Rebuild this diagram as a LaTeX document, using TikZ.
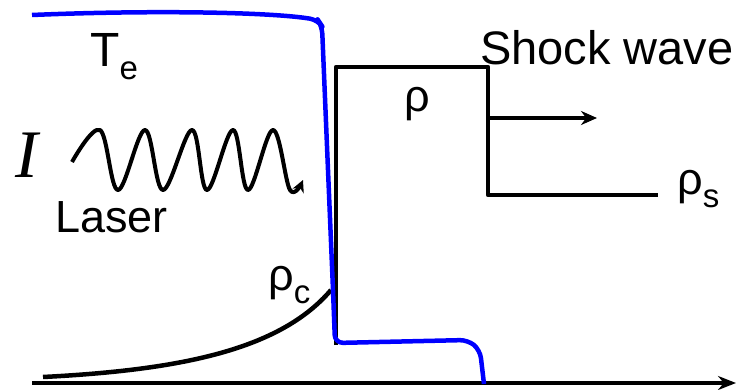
\documentclass[tikz,border=0pt]{standalone}
\usepackage{fontspec}
\setmainfont{Liberation Sans}
\newfontfamily\timesfont{Liberation Serif}
\usetikzlibrary{arrows.meta,positioning}

\newcommand{\lowsub}[1]{\raisebox{-13pt}{\fontsize{33}{33}\selectfont #1}}

\tikzset{
  lbl/.style={inner sep=0pt, anchor=base west, font=\fontsize{45}{45}\selectfont},
  curve/.style={line width=4.5pt, line join=round},
  bluecurve/.style={curve, blue},
}

\begin{document}
\begin{tikzpicture}[x=1pt, y=-1pt]
      \useasboundingbox (0,0) rectangle (736,390);

      % Axis
      \coordinate (axisstart) at (32,383);
      \coordinate (axisend) at (736,383);
      \draw[curve, -{Stealth[length=18pt, width=14pt]}] (axisstart) -- (axisend);

      % Density profile
      \coordinate (rhofoot) at (43,377);
      \coordinate (rhocrit) at (331,290);
      \draw[curve] (rhofoot) .. controls (180,370) and (280,350) .. (rhocrit);
      \coordinate (boxlow) at (336,345);
      \coordinate (boxtl) at (336,67);
      \coordinate (front) at (488,67);
      \coordinate (frontlow) at (488,195);
      \coordinate (rhoend) at (658,195);
      \draw[curve] (boxlow) -- (boxtl) -- (front) -- (frontlow) -- (rhoend);

      % Shock direction
      \coordinate (shockfrom) at (488,118);
      \coordinate (shockto) at (597,118);
      \draw[curve, -{Stealth[length=16pt, width=14pt]}] (shockfrom) -- (shockto);

      % Electron temperature
      \coordinate (tstart) at (32,15);
      \coordinate (tend) at (484,384);
      \draw[bluecurve, rounded corners=8pt] (tstart) .. controls (150,10) and (270,12) .. (318,20)
        -- (322,26) -- (333,290) -- (335,343) -- (468,340) -- (480,350) -- (tend);

      % Laser
      \draw[curve, line width=4pt, -{Stealth[length=12pt, width=12pt]}] plot[smooth, tension=0.6] coordinates {
        (72,162) (100,130) (118,190) (145,130) (163,190) (192,130) (207,190)
        (233,130) (248,190) (273,130) (290,190) (303,180)};

      % Labels
      \node[lbl, font=\fontsize{48}{48}\selectfont] (te) at (90,67) {T\lowsub{e}};
      \node[lbl, font=\fontsize{68}{68}\selectfont\timesfont\itshape] (intens) at (15,178) {I};
      \node[lbl] (laser) at (55,233) {Laser};
      \node[lbl] (rhoc) at (268,290) {ρ\lowsub{c}};
      \node[lbl] (rho) at (404,112) {ρ};
      \node[lbl, font=\fontsize{47}{47}\selectfont] (shock) at (480,65) {Shock wave};
      \node[lbl] (rhos) at (677,195) {ρ\lowsub{s}};
    \end{tikzpicture}
\end{document}
